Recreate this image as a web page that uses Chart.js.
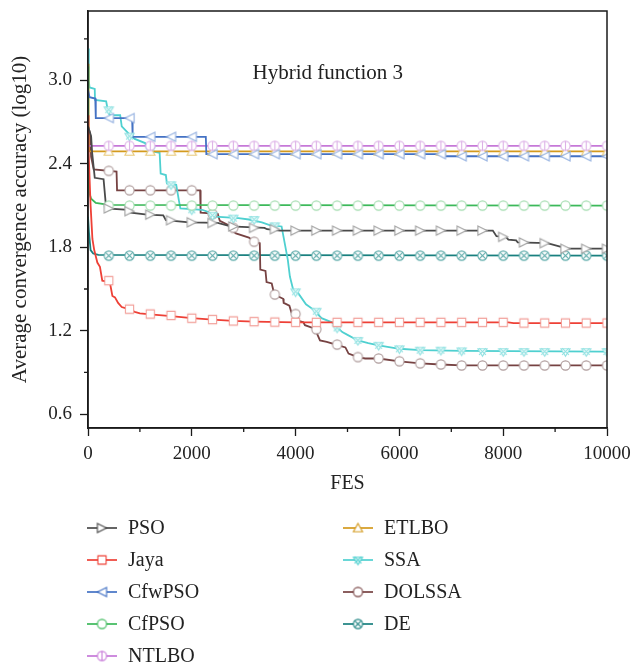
<!DOCTYPE html>
<html>
<head>
<meta charset="utf-8">
<script src="https://cdn.jsdelivr.net/npm/chart.js@4.4.1/dist/chart.umd.min.js"></script>
<style>
  html, body { margin: 0; padding: 0; background: #fff; }
</style>
</head>
<body>
<canvas id="convChart" width="634" height="671"></canvas>
<script>
// FES positions where markers are placed
const markFes = [400, 800, 1200, 1600, 2000, 2400, 2800, 3200, 3600, 4000, 4400, 4800, 5200,
  5600, 6000, 6400, 6800, 7200, 7600, 8000, 8400, 8800, 9200, 9600, 10000];

const xTickVals = [0, 1000, 2000, 3000, 4000, 5000, 6000, 7000, 8000, 9000, 10000];
const xTickLabels = ["0", "", "2000", "", "4000", "", "6000", "", "8000", "", "10000"];
const yTickVals = [0.6, 0.9, 1.2, 1.5, 1.8, 2.1, 2.4, 2.7, 3.0, 3.3];
const yTickLabels = ["0.6", "", "1.2", "", "1.8", "", "2.4", "", "3.0", ""];

const captionText = "Hybrid function 3";

// convergence curves: [FES, value]
const psoLine = [[0, 2.67], [60, 2.6], [80, 2.48], [130, 2.3], [300, 2.29], [350, 2.08], [780, 2.07],
  [820, 2.05], [1140, 2.035], [1450, 2.03], [1500, 1.995], [1950, 1.98], [2500, 1.975], [2750, 1.95],
  [3400, 1.94], [3450, 1.93], [3700, 1.92], [7800, 1.92], [7870, 1.88], [8050, 1.875], [8100, 1.855],
  [8250, 1.85], [8280, 1.835], [8850, 1.83], [9150, 1.8], [9200, 1.79], [10000, 1.79]];
const psoMarks = [2.08, 2.06, 2.035, 1.995, 1.98, 1.975, 1.95, 1.94, 1.93, 1.92, 1.92, 1.92, 1.92,
  1.92, 1.92, 1.92, 1.92, 1.92, 1.92, 1.875, 1.835, 1.83, 1.79, 1.79, 1.79];

const jayaLine = [[0, 2.75], [10, 2.5], [50, 2.1], [85, 1.86], [120, 1.78], [180, 1.69], [230, 1.66],
  [275, 1.56], [420, 1.55], [470, 1.45], [520, 1.44], [580, 1.4], [650, 1.37], [780, 1.355], [900, 1.335],
  [1000, 1.325], [1200, 1.318], [1600, 1.305], [2000, 1.29], [2400, 1.28], [2800, 1.27], [3200, 1.265],
  [4000, 1.26], [8100, 1.26], [8200, 1.255], [10000, 1.255]];
const jayaMarks = [1.56, 1.355, 1.32, 1.31, 1.29, 1.28, 1.27, 1.265, 1.262, 1.26, 1.26, 1.26, 1.26,
  1.26, 1.26, 1.26, 1.26, 1.26, 1.26, 1.26, 1.255, 1.255, 1.255, 1.255, 1.255];

const cfwpsoLine = [[0, 2.93], [30, 2.88], [140, 2.87], [150, 2.73], [850, 2.73], [860, 2.595],
  [2270, 2.595], [2280, 2.47], [6850, 2.47], [6900, 2.455], [10000, 2.455]];
const cfwpsoMarks = [2.73, 2.73, 2.595, 2.595, 2.595, 2.47, 2.47, 2.47, 2.47, 2.47, 2.47, 2.47, 2.47,
  2.47, 2.47, 2.47, 2.47, 2.455, 2.455, 2.455, 2.455, 2.455, 2.455, 2.455, 2.455];

const cfpsoLine = [[0, 3.1], [5, 2.3], [20, 2.2], [60, 2.15], [150, 2.12], [400, 2.105], [10000, 2.1]];
const cfpsoMarks = [2.1, 2.1, 2.1, 2.1, 2.1, 2.1, 2.1, 2.1, 2.1, 2.1, 2.1, 2.1, 2.1,
  2.1, 2.1, 2.1, 2.1, 2.1, 2.1, 2.1, 2.1, 2.1, 2.1, 2.1, 2.1];

const ntlboLine = [[0, 2.53], [10000, 2.53]];
const ntlboMarks = [2.53, 2.53, 2.53, 2.53, 2.53, 2.53, 2.53, 2.53, 2.53, 2.53, 2.53, 2.53, 2.53,
  2.53, 2.53, 2.53, 2.53, 2.53, 2.53, 2.53, 2.53, 2.53, 2.53, 2.53, 2.53];

const etlboLine = [[0, 3.12], [10, 2.6], [20, 2.49], [10000, 2.49]];
const etlboMarks = [2.49, 2.49, 2.49, 2.49, 2.49, 2.49, 2.49, 2.49, 2.49, 2.49, 2.49, 2.49, 2.49,
  2.49, 2.49, 2.49, 2.49, 2.49, 2.49, 2.49, 2.49, 2.49, 2.49, 2.49, 2.49];

const ssaLine = [[0, 3.23], [15, 3.0], [30, 2.95], [130, 2.94], [135, 2.86], [350, 2.85], [380, 2.79],
  [420, 2.75], [620, 2.75], [650, 2.67], [780, 2.62], [830, 2.6], [900, 2.58], [1100, 2.55], [1150, 2.51],
  [1250, 2.49], [1380, 2.48], [1400, 2.33], [1500, 2.32], [1520, 2.26], [1700, 2.25], [1750, 2.14],
  [1780, 2.08], [2200, 2.07], [2350, 2.05], [2450, 2.02], [2900, 2.01], [3100, 2.0], [3350, 1.98],
  [3500, 1.96], [3730, 1.95], [3800, 1.81], [3850, 1.71], [3890, 1.59], [3950, 1.5], [4050, 1.47],
  [4200, 1.39], [4350, 1.35], [4500, 1.29], [4700, 1.26], [4900, 1.19], [5000, 1.17], [5200, 1.13],
  [5400, 1.11], [5600, 1.095], [6000, 1.07], [6400, 1.06], [7200, 1.055], [10000, 1.05]];
const ssaMarks = [2.79, 2.6, 2.5, 2.25, 2.07, 2.03, 2.01, 2.0, 1.955, 1.48, 1.34, 1.22, 1.13,
  1.095, 1.07, 1.06, 1.06, 1.055, 1.05, 1.05, 1.05, 1.05, 1.05, 1.05, 1.05];

const dolssaLine = [[0, 2.67], [40, 2.62], [60, 2.45], [110, 2.36], [550, 2.345], [560, 2.21],
  [2160, 2.21], [2170, 2.05], [2500, 2.04], [2540, 1.99], [2700, 1.96], [2780, 1.92], [2850, 1.9],
  [3100, 1.87], [3200, 1.84], [3310, 1.83], [3320, 1.64], [3420, 1.63], [3440, 1.55], [3540, 1.54],
  [3590, 1.46], [3760, 1.43], [3770, 1.4], [3880, 1.38], [3920, 1.33], [4040, 1.31], [4060, 1.27],
  [4150, 1.26], [4180, 1.24], [4370, 1.215], [4470, 1.13], [4600, 1.12], [4780, 1.1], [4960, 1.08],
  [5020, 1.035], [5200, 1.01], [5340, 1.0], [5600, 1.0], [6000, 0.98], [6400, 0.965], [6800, 0.957],
  [7200, 0.95], [10000, 0.95]];
const dolssaMarks = [2.35, 2.21, 2.21, 2.21, 2.21, 2.04, 1.94, 1.84, 1.46, 1.32, 1.21, 1.1, 1.01,
  1.0, 0.98, 0.965, 0.957, 0.95, 0.95, 0.95, 0.95, 0.95, 0.95, 0.95, 0.95];

const deLine = [[0, 2.02], [20, 1.9], [50, 1.78], [100, 1.755], [200, 1.745], [10000, 1.74]];
const deMarks = [1.74, 1.74, 1.74, 1.74, 1.74, 1.74, 1.74, 1.74, 1.74, 1.74, 1.74, 1.74, 1.74,
  1.74, 1.74, 1.74, 1.74, 1.74, 1.74, 1.74, 1.74, 1.74, 1.74, 1.74, 1.74];

const series = [
  { name: "PSO", line: psoLine, marks: psoMarks, color: "#4a4a4a", light: "#a0a0a0", shape: "triRight" },
  { name: "Jaya", line: jayaLine, marks: jayaMarks, color: "#ee4036", light: "#f2a09a", shape: "square" },
  { name: "CfwPSO", line: cfwpsoLine, marks: cfwpsoMarks, color: "#4472c4", light: "#93b0e0", shape: "triLeft" },
  { name: "CfPSO", line: cfpsoLine, marks: cfpsoMarks, color: "#3cb95a", light: "#a2dcae", shape: "circle" },
  { name: "NTLBO", line: ntlboLine, marks: ntlboMarks, color: "#c678d8", light: "#dcb0e6", shape: "circleBar" },
  { name: "ETLBO", line: etlboLine, marks: etlboMarks, color: "#d49a1e", light: "#e8c877", shape: "triUp" },
  { name: "SSA", line: ssaLine, marks: ssaMarks, color: "#4fd0d0", light: "#92e2e2", shape: "triDownX" },
  { name: "DOLSSA", line: dolssaLine, marks: dolssaMarks, color: "#764242", light: "#ad9a9a", shape: "circle" },
  { name: "DE", line: deLine, marks: deMarks, color: "#19807f", light: "#5aa9a8", shape: "circleX" },
];

const serif = "'Liberation Serif', 'Times New Roman', serif";
const inkColor = "#1a1a1a";

// hollow marker drawn on a small canvas, used as pointStyle
function makeMarker(shape, color) {
  const c = document.createElement("canvas");
  c.width = 13;
  c.height = 13;
  const g = c.getContext("2d");
  const m = 6.5, r = 4.6;
  g.strokeStyle = color;
  g.fillStyle = "#fff";
  g.lineWidth = 1.1;
  g.beginPath();
  if (shape === "triRight") {
    g.moveTo(m - r, m - r); g.lineTo(m + r, m); g.lineTo(m - r, m + r); g.closePath();
  } else if (shape === "triLeft") {
    g.moveTo(m + r, m - r); g.lineTo(m - r, m); g.lineTo(m + r, m + r); g.closePath();
  } else if (shape === "triUp") {
    g.moveTo(m, m - r); g.lineTo(m + r, m + r * 0.8); g.lineTo(m - r, m + r * 0.8); g.closePath();
  } else if (shape === "triDownX") {
    g.moveTo(m - r, m - r * 0.6); g.lineTo(m + r, m - r * 0.6); g.lineTo(m, m + r); g.closePath();
  } else if (shape === "square") {
    g.rect(m - r + 0.5, m - r + 0.5, 2 * r - 1, 2 * r - 1);
  } else {
    g.arc(m, m, r, 0, Math.PI * 2);
  }
  g.fill();
  g.stroke();
  g.beginPath();
  if (shape === "circleBar") {
    g.moveTo(m, m - r); g.lineTo(m, m + r);
  } else if (shape === "circleX" || shape === "triDownX") {
    const d = r * 0.75;
    g.moveTo(m - d, m - d); g.lineTo(m + d, m + d);
    g.moveTo(m + d, m - d); g.lineTo(m - d, m + d);
  }
  g.stroke();
  return c;
}

const datasets = [];
series.forEach((s) => {
  datasets.push({
    label: s.name,
    data: s.line.map(([x, y]) => ({ x, y })),
    borderColor: s.color,
    borderWidth: 1.8,
    pointRadius: 0,
    fill: false,
    order: 2,
  });
  datasets.push({
    label: s.name + " marks",
    data: markFes.map((x, i) => ({ x, y: s.marks[i] })),
    showLine: false,
    pointStyle: makeMarker(s.shape, s.light),
    pointRadius: 5,
    order: 1,
    clip: 0,
  });
});

// only labelled ticks get the long tick mark, the others are drawn short below
const longTick = (labels) => (c) => (labels[c.index] ? inkColor : "rgba(0,0,0,0)");

// frame, short minor ticks, caption inside the plot and the two-column legend underneath
const decorations = {
  id: "decorations",
  afterDraw(chart) {
    const { ctx, chartArea: a, scales } = chart;
    ctx.save();
    ctx.strokeStyle = inkColor;
    ctx.lineWidth = 1.5;
    ctx.strokeRect(a.left, a.top, a.right - a.left, a.bottom - a.top);

    ctx.lineWidth = 1.3;
    ctx.beginPath();
    xTickVals.forEach((v, i) => {
      if (xTickLabels[i]) return;
      const px = scales.x.getPixelForValue(v);
      ctx.moveTo(px, a.bottom);
      ctx.lineTo(px, a.bottom + 4);
    });
    yTickVals.forEach((v, i) => {
      if (yTickLabels[i]) return;
      const py = scales.y.getPixelForValue(v);
      ctx.moveTo(a.left, py);
      ctx.lineTo(a.left - 4, py);
    });
    ctx.stroke();

    ctx.fillStyle = "#222";
    ctx.font = "21px " + serif;
    ctx.textAlign = "center";
    ctx.textBaseline = "middle";
    ctx.fillText(captionText, scales.x.getPixelForValue(4620), scales.y.getPixelForValue(3.05));

    ctx.textAlign = "left";
    ctx.font = "20px " + serif;
    series.forEach((s, i) => {
      const col = i < 5 ? 0 : 1;
      const row = i < 5 ? i : i - 5;
      const x0 = col === 0 ? 87 : 343;
      const y0 = 528 + row * 32;
      ctx.strokeStyle = s.color;
      ctx.lineWidth = 1.7;
      ctx.beginPath();
      ctx.moveTo(x0, y0);
      ctx.lineTo(x0 + 30, y0);
      ctx.stroke();
      const mk = makeMarker(s.shape, s.color);
      ctx.drawImage(mk, x0 + 15 - mk.width / 2, y0 - mk.height / 2);
      ctx.fillStyle = "#222";
      ctx.fillText(s.name, x0 + 41, y0 + 1);
    });
    ctx.restore();
  },
};

const ctx = document.getElementById("convChart").getContext("2d");

const chart = new Chart(ctx, {
  type: "line",
  data: { datasets },
  options: {
    responsive: false,
    animation: false,
    layout: { padding: { top: 11, right: 27, bottom: 173, left: 0 } },
    plugins: { legend: { display: false }, tooltip: { enabled: false } },
    scales: {
      x: {
        type: "linear",
        min: 0,
        max: 10000,
        afterFit: (scale) => {
          scale.height = 70;
          scale.paddingLeft = 0;
          scale.paddingRight = 0;
        },
        afterBuildTicks: (scale) => { scale.ticks = xTickVals.map((v) => ({ value: v })); },
        ticks: {
          color: "#222",
          font: { family: serif, size: 19 },
          padding: 7,
          maxRotation: 0,
          autoSkip: false,
          callback: (v) => xTickLabels[xTickVals.indexOf(v)],
        },
        grid: { drawOnChartArea: false, tickLength: 8, tickColor: longTick(xTickLabels), tickWidth: 1.3 },
        border: { color: inkColor, width: 1.5 },
        title: { display: true, text: "FES", color: "#222", font: { family: serif, size: 20 }, padding: { bottom: 2 } },
      },
      y: {
        type: "linear",
        min: 0.5,
        max: 3.5,
        afterFit: (scale) => {
          scale.width = 88;
          scale.paddingTop = 0;
          scale.paddingBottom = 0;
        },
        afterBuildTicks: (scale) => { scale.ticks = yTickVals.map((v) => ({ value: v })); },
        ticks: {
          color: "#222",
          font: { family: serif, size: 19 },
          padding: 8,
          autoSkip: false,
          callback: (v) => yTickLabels[yTickVals.findIndex((t) => Math.abs(t - v) < 1e-6)],
        },
        grid: { drawOnChartArea: false, tickLength: 8, tickColor: longTick(yTickLabels), tickWidth: 1.3 },
        border: { color: inkColor, width: 1.5 },
        title: {
          display: true,
          text: "Average convergence accuracy (log10)",
          color: "#222",
          font: { family: serif, size: 21 },
          padding: { top: 8 },
        },
      },
    },
  },
  plugins: [decorations],
});
</script>
</body>
</html>
